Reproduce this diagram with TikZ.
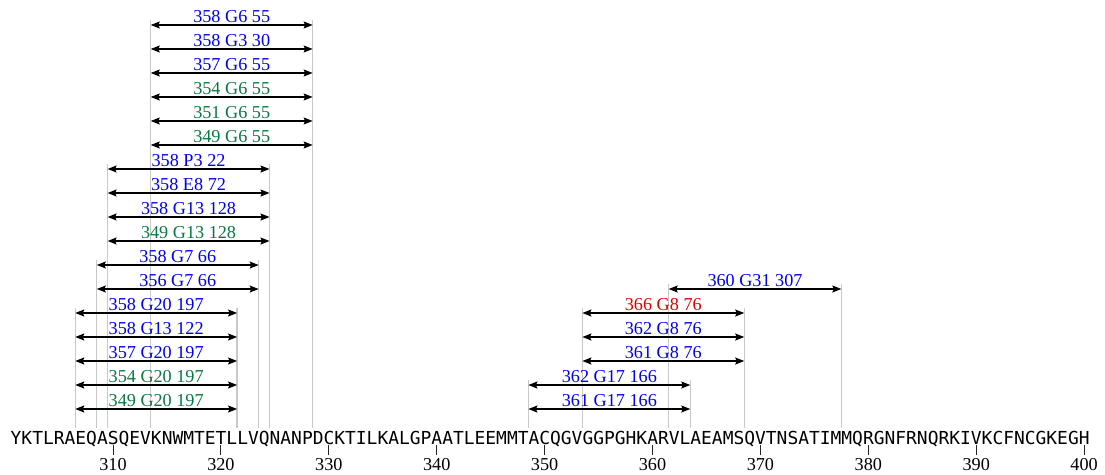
\documentclass[tikz,border=0pt]{standalone}
\usepackage{fontspec}
\setmainfont{Liberation Serif}
\newfontfamily\seqfont{DejaVu Sans Mono}
\usetikzlibrary{arrows.meta,calc}

\definecolor{hitblue}{RGB}{0,0,235}
\definecolor{hitgreen}{RGB}{10,120,65}
\definecolor{hitred}{RGB}{220,0,0}
\definecolor{guidegray}{RGB}{200,200,200}

% one residue = 10.79pt; x coordinate = residue number - 300
\tikzset{
  rng/.style={line width=1.2pt, black, {Stealth[length=9pt,width=7pt,inset=1.5pt]}-{Stealth[length=9pt,width=7pt,inset=1.5pt]}},
  guide/.style={line width=1.3pt, guidegray},
  lbl/.style={anchor=base, yshift=2.6pt, inner sep=0pt, font=\fontsize{18.2pt}{20pt}\selectfont},
  tickmark/.style={line width=1pt, black!85},
  ticklbl/.style={anchor=base, inner sep=0pt, font=\fontsize{18.2pt}{20pt}\selectfont},
}

% range bar: name, left, right, y, colour, text
\newcommand\rangebar[6]{%
  \coordinate (#1-l) at (#2,#4);
  \coordinate (#1-r) at (#3,#4);
  \draw[rng] (#1-l) -- (#1-r);
  \node[lbl,text=#5] (#1) at ($(#1-l)!0.5!(#1-r)$) {#6};
}
% grey guide line: name, x, top
\newcommand\guideline[3]{%
  \coordinate (#1-t) at (#2,#3);
  \coordinate (#1-b) at (#2,428);
  \draw[guide] (#1-t) -- (#1-b);
}

\begin{document}
\begin{tikzpicture}[x=10.79pt,y=-1pt]
\useasboundingbox (0pt,0pt) rectangle (1105pt,-474pt);
\begin{scope}[xshift=5.11pt]
  % guide lines
  \guideline{ga1}{13.5}{20}  \guideline{ga2}{28.5}{20}
  \guideline{gb1}{9.5}{164}  \guideline{gb2}{24.5}{164}
  \guideline{gc1}{8.5}{260}  \guideline{gc2}{23.5}{260}
  \guideline{gd1}{6.5}{308}  \guideline{gd2}{21.5}{308}
  \guideline{ge1}{61.5}{284} \guideline{ge2}{77.5}{284}
  \guideline{gf1}{53.5}{308} \guideline{gf2}{68.5}{308}
  \guideline{gg1}{48.5}{380} \guideline{gg2}{63.5}{380}

  % range bars, left block
  \rangebar{a1}{13.5}{28.5}{25}{hitblue}{358 G6 55}
  \rangebar{a2}{13.5}{28.5}{49}{hitblue}{358 G3 30}
  \rangebar{a3}{13.5}{28.5}{73}{hitblue}{357 G6 55}
  \rangebar{a4}{13.5}{28.5}{97}{hitgreen}{354 G6 55}
  \rangebar{a5}{13.5}{28.5}{121}{hitgreen}{351 G6 55}
  \rangebar{a6}{13.5}{28.5}{145}{hitgreen}{349 G6 55}
  \rangebar{b1}{9.5}{24.5}{169}{hitblue}{358 P3 22}
  \rangebar{b2}{9.5}{24.5}{193}{hitblue}{358 E8 72}
  \rangebar{b3}{9.5}{24.5}{217}{hitblue}{358 G13 128}
  \rangebar{b4}{9.5}{24.5}{241}{hitgreen}{349 G13 128}
  \rangebar{c1}{8.5}{23.5}{265}{hitblue}{358 G7 66}
  \rangebar{c2}{8.5}{23.5}{289}{hitblue}{356 G7 66}
  \rangebar{d1}{6.5}{21.5}{313}{hitblue}{358 G20 197}
  \rangebar{d2}{6.5}{21.5}{337}{hitblue}{358 G13 122}
  \rangebar{d3}{6.5}{21.5}{361}{hitblue}{357 G20 197}
  \rangebar{d4}{6.5}{21.5}{385}{hitgreen}{354 G20 197}
  \rangebar{d5}{6.5}{21.5}{409}{hitgreen}{349 G20 197}

  % range bars, right block
  \rangebar{e1}{61.5}{77.5}{289}{hitblue}{360 G31 307}
  \rangebar{f1}{53.5}{68.5}{313}{hitred}{366 G8 76}
  \rangebar{f2}{53.5}{68.5}{337}{hitblue}{362 G8 76}
  \rangebar{f3}{53.5}{68.5}{361}{hitblue}{361 G8 76}
  \rangebar{g1}{48.5}{63.5}{385}{hitblue}{362 G17 166}
  \rangebar{g2}{48.5}{63.5}{409}{hitblue}{361 G17 166}

  % sequence 301-400
  \node[anchor=base west, inner sep=0pt, font=\seqfont\fontsize{17.922pt}{20pt}\selectfont] (seq) at (0.5,444)
    {YKTLRAEQASQEVKNWMTETLLVQNANPDCKTILKALGPAATLEEMMTACQGVGGPGHKARVLAEAMSQVTNSATIMMQRGNFRNQRKIVKCFNCGKEGH};

  % position scale
  \foreach \p in {10,20,...,100}{
    \pgfmathtruncatemacro\lab{300+\p}
    \coordinate (t\lab-a) at (\p,445);
    \coordinate (t\lab-b) at (\p,455);
    \draw[tickmark] (t\lab-a) -- (t\lab-b);
    \node[ticklbl] (t\lab) at (\p,470) {\lab};
  }
\end{scope}
\end{tikzpicture}
\end{document}
